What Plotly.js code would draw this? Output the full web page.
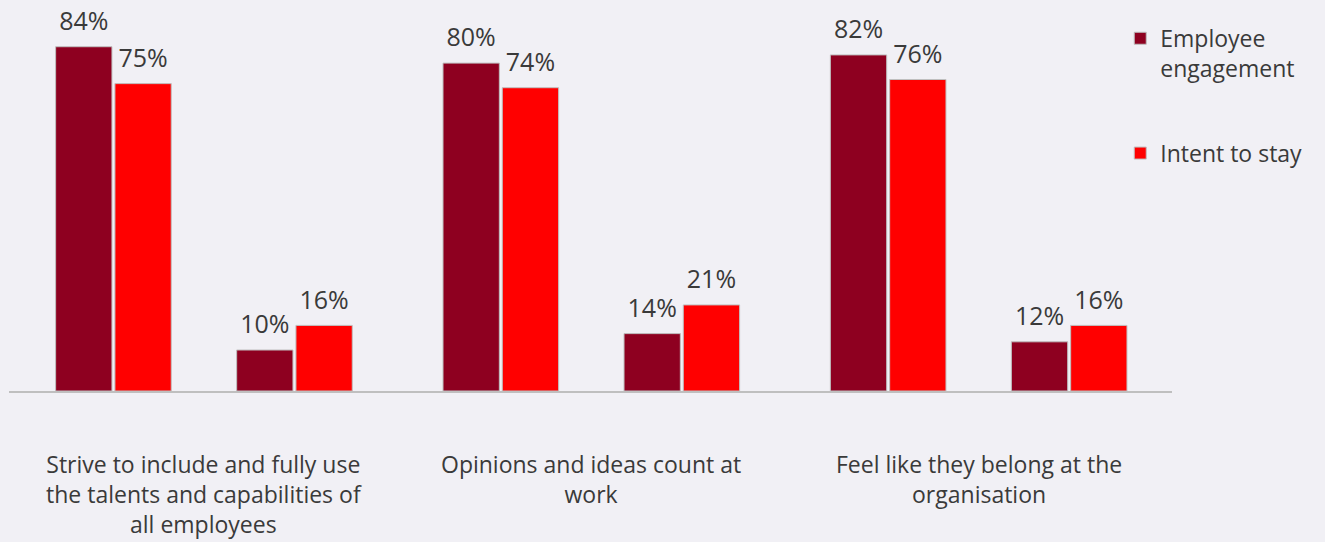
<!DOCTYPE html>
<html>
<head>
<meta charset="utf-8">
<script src="https://cdn.plot.ly/plotly-3.0.1.min.js"></script>
<style>html,body{margin:0;padding:0;background:#F1F0F5;}#chart{width:1325px;height:542px;}</style>
</head>
<body>
<div id="chart"></div>
<script>
// Data
var categories = [
  "Strive to include and fully use<br>the talents and capabilities of<br>all employees",
  "Opinions and ideas count at<br>work",
  "Feel like they belong at the<br>organisation"
];
var seriesNames = ["Employee<br>engagement", "Intent to stay"];
var engagement = [84, 10, 80, 14, 82, 12];
var intentToStay = [75, 16, 74, 21, 76, 16];

// Layout helpers (positions of the six bar pairs: two per category, extra gap between categories)
var catGap = 0.14;
var xpos = engagement.map(function (_, i) {
  var cat = Math.floor(i / 2), sub = i % 2;
  return cat * (2 + catGap) + sub;
});
var catCenters = categories.map(function (_, c) { return c * (2 + catGap) + 0.5; });

var fontFam = "'Open Sans', Lato, sans-serif";
var txtColor = "#3A3A3A";
var colEng = "#8E0020", colInt = "#FF0000";
var halfOff = 0.16375;

function barTrace(name, vals, color) {
  return {
    type: "bar", name: name, x: xpos, y: vals,
    marker: { color: color, line: { color: "#BFBFBF", width: 1 } },
    legendgroup: name, hoverinfo: "skip"
  };
}
function labelTrace(vals, off) {
  return {
    type: "scatter", mode: "markers+text", showlegend: false, hoverinfo: "skip",
    x: xpos.map(function (x) { return x + off; }), y: vals,
    text: vals.map(function (v) { return v + "%"; }),
    textposition: "top center",
    textfont: { family: fontFam, size: 25, color: txtColor },
    marker: { size: 15, opacity: 0 },
    cliponaxis: false
  };
}

var data = [
  barTrace(seriesNames[0], engagement, colEng),
  barTrace(seriesNames[1], intentToStay, colInt),
  labelTrace(engagement, -halfOff),
  labelTrace(intentToStay, halfOff)
];

var annotations = categories.map(function (c, i) {
  return {
    text: c, x: catCenters[i], xref: "x", y: -0.141, yref: "paper",
    xanchor: "center", yanchor: "top", showarrow: false, align: "center",
    font: { family: fontFam, size: 23, color: txtColor }
  };
});

var layout = {
  width: 1325, height: 542,
  paper_bgcolor: "#F1F0F5", plot_bgcolor: "#F1F0F5",
  margin: { l: 9, r: 153, t: 0, b: 151, pad: 0 },
  barmode: "group", bargap: 0.345, bargroupgap: 0.05,
  showlegend: true,
  legend: {
    x: 0.9555, xanchor: "left", y: 0.957, yanchor: "top",
    font: { family: fontFam, size: 23, color: txtColor },
    traceorder: "grouped", tracegroupgap: 52, valign: "top",
    bgcolor: "rgba(0,0,0,0)"
  },
  xaxis: {
    range: [-0.577, 5.848], showgrid: false, zeroline: false,
    showline: true, linecolor: "#BFBFBF", linewidth: 2,
    ticks: "", showticklabels: false, fixedrange: true
  },
  yaxis: {
    range: [0, 95.4], visible: false, showgrid: false, zeroline: false, fixedrange: true
  },
  annotations: annotations
};

Plotly.newPlot("chart", data, layout, { displayModeBar: false, staticPlot: true });
</script>
</body>
</html>
